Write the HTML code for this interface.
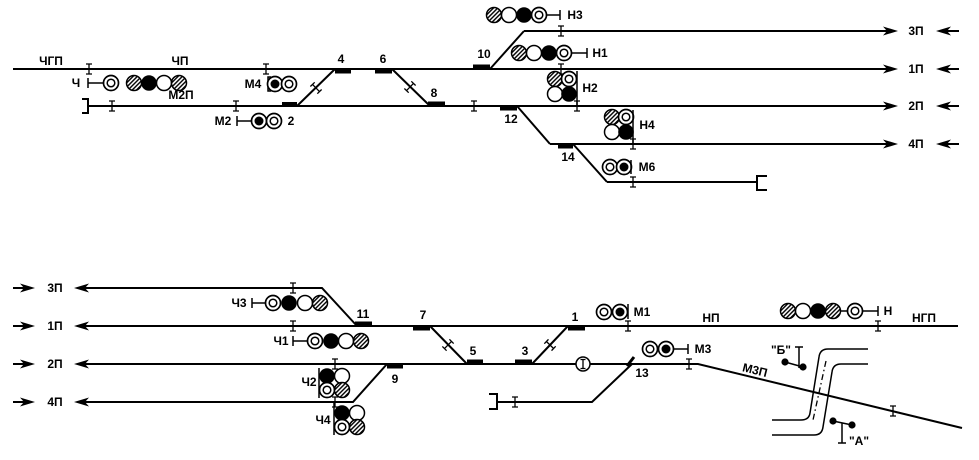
<!DOCTYPE html>
<html><head><meta charset="utf-8"><style>
html,body{margin:0;padding:0;background:#fff;}
svg{display:block;}
text{font-family:"Liberation Sans",Arial,sans-serif;font-weight:bold;font-size:12px;fill:#000;text-anchor:middle;}
.t{stroke:#000;stroke-width:2;fill:none;}
.s{stroke:#000;stroke-width:1.5;fill:none;}
</style></head><body>
<svg width="979" height="460" viewBox="0 0 979 460" xmlns="http://www.w3.org/2000/svg">
<defs>
<pattern id="hp" patternUnits="userSpaceOnUse" width="3" height="3" patternTransform="rotate(45)"><rect width="3" height="3" fill="#fff"/><line x1="0.7" y1="0" x2="0.7" y2="3" stroke="#000" stroke-width="1.4"/></pattern>
<g id="D"><circle r="7.5" fill="#fff" stroke="#000" stroke-width="1.7"/><circle r="3.8" fill="none" stroke="#000" stroke-width="1.5"/></g>
<g id="B"><circle r="7.5" fill="#fff" stroke="#000" stroke-width="1.7"/><circle r="4.5" fill="#000"/></g>
<circle id="K" r="7.8" fill="#000"/>
<circle id="W" r="7.5" fill="#fff" stroke="#000" stroke-width="1.5"/>
<circle id="H" r="7.5" fill="url(#hp)" stroke="#000" stroke-width="1.5"/>
<path id="IJ" d="M0 -5V5M-3 -5H3M-3 5H3" stroke="#000" stroke-width="1.3" fill="none"/>
<path id="AR" d="M0 0L-15 -4.5L-11 0L-15 4.5Z" fill="#000"/>
<path id="AL" d="M0 0L15 -4.5L11 0L15 4.5Z" fill="#000"/>
</defs>

<!-- ===== TOP SECTION ===== -->
<path class="t" d="M524 31H888M490 69L524 31"/>
<path class="t" d="M13 69H888"/>
<path class="t" d="M88 106H888"/>
<path class="t" d="M550 144H888M517 106L550 144"/>
<path class="t" d="M607 182H757M573 144L607 182"/>
<path class="t" d="M297 106L335 69M392 69L430 106"/>
<path class="t" d="M82 99H88V113H82"/>
<path class="t" d="M767 176H757V190H767"/>

<use href="#AR" x="898" y="31"/><use href="#AR" x="898" y="69"/><use href="#AR" x="898" y="106"/><use href="#AR" x="898" y="144"/>
<use href="#AL" x="936" y="31"/><use href="#AL" x="936" y="69"/><use href="#AL" x="936" y="106"/><use href="#AL" x="936" y="144"/>
<path class="t" d="M947 31H959M947 69H959M947 106H959M947 144H959"/>
<text x="916" y="35">3П</text><text x="916" y="73">1П</text><text x="916" y="110">2П</text><text x="916" y="148">4П</text>

<rect x="282" y="102" width="15" height="4.5"/>
<rect x="335" y="69" width="16" height="4.5"/>
<rect x="375" y="69" width="17" height="4.5"/>
<rect x="428" y="101.5" width="17" height="4.5"/>
<rect x="473" y="64.5" width="17" height="4.5"/>
<rect x="500" y="106" width="17" height="4.5"/>
<rect x="558" y="144" width="15" height="4.5"/>

<use href="#IJ" x="89" y="69"/><use href="#IJ" x="266" y="69"/><use href="#IJ" x="112" y="106"/><use href="#IJ" x="236" y="106"/>
<use href="#IJ" x="474" y="106"/><use href="#IJ" x="561" y="31"/><use href="#IJ" x="561" y="69"/><use href="#IJ" x="577" y="106"/>
<use href="#IJ" x="633" y="144"/><use href="#IJ" x="633" y="182"/>
<use href="#IJ" transform="translate(316,88) rotate(-44)"/>
<use href="#IJ" transform="translate(410,87) rotate(44)"/>

<text x="51" y="65">ЧГП</text><text x="180" y="65">ЧП</text>
<text x="76" y="87">Ч</text><text x="181" y="99">М2П</text>
<text x="253" y="88">М4</text><text x="223" y="125">М2</text>
<text x="291" y="125">2</text><text x="341" y="63">4</text><text x="383" y="63">6</text>
<text x="434" y="97">8</text><text x="484" y="58">10</text><text x="511" y="123">12</text><text x="568" y="161">14</text>
<text x="575" y="19">Н3</text><text x="600" y="57">Н1</text><text x="590" y="92">Н2</text><text x="647" y="129">Н4</text><text x="647" y="171">М6</text>

<path class="s" d="M88 78V88M88 83H104"/>
<use href="#D" x="111" y="83"/><use href="#H" x="134" y="83"/><use href="#K" x="149" y="83"/><use href="#W" x="164" y="83"/><use href="#H" x="179" y="83"/>
<path class="s" d="M271 77H268V91H271"/>
<use href="#B" x="275" y="84"/><use href="#D" x="289" y="84"/>
<path class="s" d="M237 116V126M237 121H252"/>
<use href="#B" x="259" y="121"/><use href="#D" x="274" y="121"/>
<use href="#H" x="494" y="15"/><use href="#W" x="509" y="15"/><use href="#K" x="524" y="15"/><use href="#D" x="539" y="15"/>
<path class="s" d="M546 15H560M560 10V20"/>
<use href="#H" x="519" y="53"/><use href="#W" x="534" y="53"/><use href="#K" x="549" y="53"/><use href="#D" x="564" y="53"/>
<path class="s" d="M571 53H587M587 48V58"/>
<use href="#H" x="555" y="79"/><use href="#D" x="569" y="79"/><use href="#W" x="555" y="94"/><use href="#K" x="569" y="94"/>
<path class="s" d="M577 71V106"/>
<use href="#H" x="612" y="117"/><use href="#D" x="626" y="117"/><use href="#W" x="612" y="132"/><use href="#K" x="626" y="132"/>
<path class="s" d="M633 110V144"/>
<use href="#D" x="610" y="167"/><use href="#B" x="624" y="167"/>
<path class="s" d="M631 160V174"/>

<!-- ===== BOTTOM SECTION ===== -->
<path class="t" d="M84 288H322L357 326"/>
<path class="t" d="M84 326H958"/>
<path class="t" d="M84 364H698L962 428"/>
<path class="t" d="M84 402H353L387 364"/>
<path class="t" d="M430 326L467 364M532 364L568 326"/>
<path class="t" d="M632 364L592 402H497M489 394H497V409H489"/>

<path class="t" d="M13 288H26M13 326H26M13 364H26M13 402H26"/>
<use href="#AR" x="35" y="288"/><use href="#AR" x="35" y="326"/><use href="#AR" x="35" y="364"/><use href="#AR" x="35" y="402"/>
<use href="#AL" x="74" y="288"/><use href="#AL" x="74" y="326"/><use href="#AL" x="74" y="364"/><use href="#AL" x="74" y="402"/>
<text x="55" y="292">3П</text><text x="55" y="330">1П</text><text x="55" y="368">2П</text><text x="55" y="406">4П</text>

<rect x="355" y="321.5" width="17" height="4.5"/>
<rect x="413" y="326" width="17" height="4.5"/>
<rect x="467" y="359.5" width="16" height="4.5"/>
<rect x="515" y="359.5" width="17" height="4.5"/>
<rect x="568" y="326" width="17" height="4.5"/>
<rect x="387" y="364" width="16" height="4.5"/>
<path d="M627 366L634 357" stroke="#000" stroke-width="3"/>

<use href="#IJ" x="293" y="288"/><use href="#IJ" x="293" y="326"/><use href="#IJ" x="335" y="364"/><use href="#IJ" x="335" y="402"/>
<use href="#IJ" x="515" y="402"/><use href="#IJ" x="628" y="326"/><use href="#IJ" x="689" y="364"/><use href="#IJ" x="878" y="326"/>
<use href="#IJ" x="893" y="411"/>
<use href="#IJ" transform="translate(448,345) rotate(45)"/>
<use href="#IJ" transform="translate(550,345) rotate(-46)"/>
<circle cx="583" cy="364" r="7" fill="#fff" stroke="#000" stroke-width="1.5"/>
<path d="M583 359.5V368.5M580.5 359.5H585.5M580.5 368.5H585.5" stroke="#000" stroke-width="1.3"/>

<text x="239" y="307">Ч3</text><text x="281" y="345">Ч1</text><text x="309" y="386">Ч2</text><text x="323" y="424">Ч4</text>
<text x="363" y="318">11</text><text x="395" y="383">9</text><text x="423" y="319">7</text><text x="473" y="355">5</text>
<text x="525" y="355">3</text><text x="575" y="321">1</text><text x="642" y="377">13</text>
<text x="642" y="316">М1</text><text x="703" y="353">М3</text><text x="711" y="322">НП</text>
<text x="888" y="315">Н</text><text x="924" y="322">НГП</text>
<text transform="translate(754,374) rotate(14)">М3П</text>
<text x="781" y="354">"Б"</text><text x="859" y="445">"А"</text>

<path class="s" d="M252 298V308M252 303H265"/>
<use href="#D" x="273" y="303"/><use href="#K" x="289" y="303"/><use href="#W" x="305" y="303"/><use href="#H" x="320" y="303"/>
<path class="s" d="M293 336V346M293 341H307"/>
<use href="#D" x="315" y="341"/><use href="#K" x="331" y="341"/><use href="#W" x="346" y="341"/><use href="#H" x="361" y="341"/>
<use href="#K" x="327" y="376"/><use href="#W" x="342" y="376"/><use href="#D" x="327" y="390"/><use href="#H" x="342" y="390"/>
<path class="s" d="M319 368V398"/>
<use href="#K" x="342" y="413"/><use href="#W" x="357" y="413"/><use href="#D" x="342" y="427"/><use href="#H" x="357" y="427"/>
<path class="s" d="M334 402V435"/>
<use href="#D" x="604" y="312"/><use href="#B" x="620" y="312"/>
<path class="s" d="M628 304V319"/>
<use href="#D" x="650" y="349"/><use href="#B" x="666" y="349"/>
<path class="s" d="M673 349H688M688 344V354"/>
<use href="#H" x="788" y="311"/><use href="#W" x="803" y="311"/><use href="#K" x="818" y="311"/><use href="#H" x="833" y="311"/>
<path class="s" d="M840 311H848"/>
<use href="#D" x="855" y="311"/>
<path class="s" d="M862 311H878M878 306V316"/>

<path class="s" d="M868 349H828Q820 349 819 357L810 413Q809 420 801 420H772"/>
<path class="s" d="M868 364H841Q833 364 832 372L823 427Q822 435 814 435H772"/>
<path d="M826 361L813 420" stroke="#000" stroke-width="1.3" stroke-dasharray="6 3 1.5 3" fill="none"/>

<path class="s" d="M795 347H803M799 347V368M785 362L803 367"/>
<circle cx="785" cy="362" r="3.6"/><circle cx="803" cy="367" r="3.6"/>
<path class="s" d="M833 421L852 425M842 423V443M838 443H846"/>
<circle cx="833" cy="421" r="3.6"/><circle cx="852" cy="425" r="3.6"/>
</svg>
</body></html>
